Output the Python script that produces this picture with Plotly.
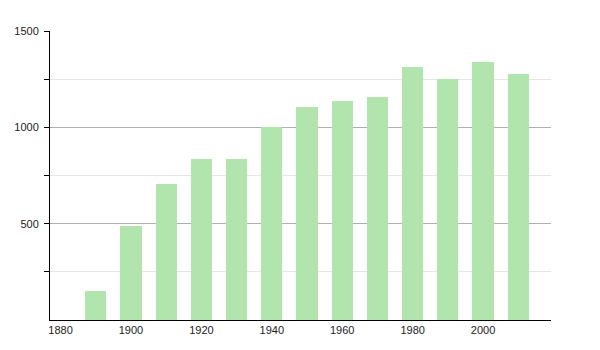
import plotly.graph_objects as go

years = [1890, 1900, 1910, 1920, 1930, 1940, 1950, 1960, 1970, 1980, 1990, 2000, 2010]
population = [152, 489, 706, 836, 836, 1002, 1105, 1137, 1157, 1311, 1249, 1339, 1277]
x_ticks = [1880, 1900, 1920, 1940, 1960, 1980, 2000]
y_major = [500, 1000, 1500]
y_minor = [250, 750, 1250]

fig = go.Figure()
fig.add_trace(go.Bar(
    x=years, y=population, width=6,
    marker=dict(color="#b2e5ad", line=dict(width=0)),
    hoverinfo="x+y",
))

fig.update_layout(
    width=600, height=350,
    margin=dict(l=50, r=49, t=31, b=30),
    paper_bgcolor="white", plot_bgcolor="white",
    showlegend=False,
    font=dict(family="Liberation Sans, Arial, sans-serif", size=11, color="#222222"),
    xaxis=dict(
        range=[1877, 2019.3],
        tickvals=x_ticks, ticktext=[str(v) for v in x_ticks],
        tickfont=dict(color="#222222"),
        showgrid=False, zeroline=False,
        showline=True, linecolor="black", linewidth=1,
        ticks="", ticklen=0,
    ),
    yaxis=dict(
        range=[0, 1500],
        tickvals=y_major, ticktext=[str(v) for v in y_major],
        tickfont=dict(color="#222222"),
        showgrid=True, gridcolor="#b0b0b0", gridwidth=1,
        zeroline=False,
        showline=True, linecolor="black", linewidth=1,
        ticks="outside", ticklen=5, tickcolor="black",
        ticklabelstandoff=3,
        minor=dict(tickvals=y_minor, ticks="outside", ticklen=5, tickcolor="black",
                   showgrid=True, gridcolor="#e6e6e6", gridwidth=1),
    ),
    bargap=0,
)

fig.write_html("out.html")
